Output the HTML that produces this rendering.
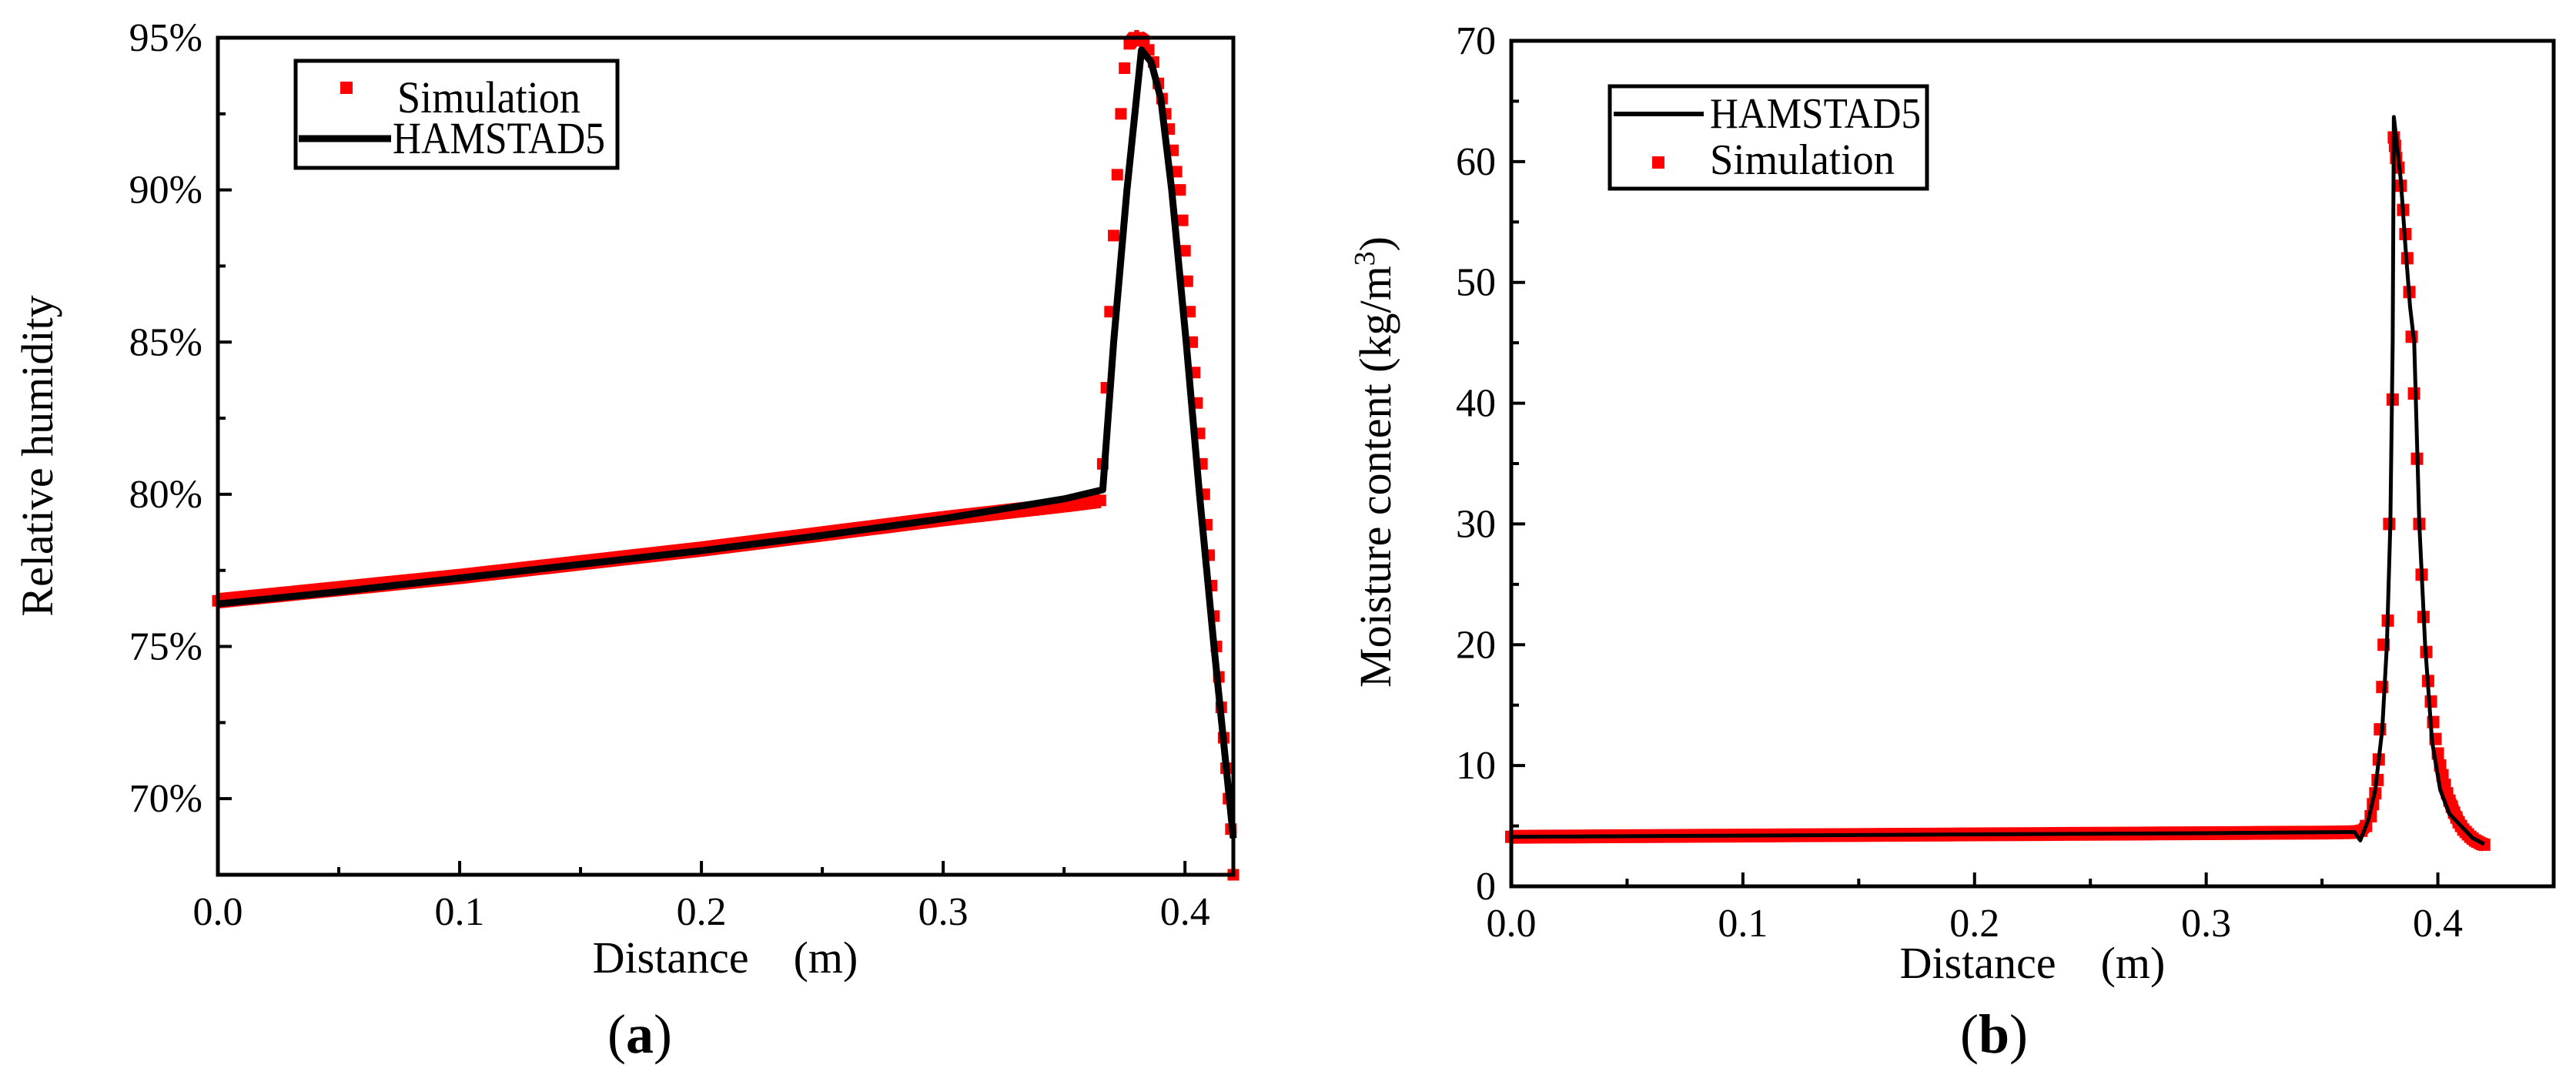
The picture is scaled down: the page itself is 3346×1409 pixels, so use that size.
<!DOCTYPE html>
<html><head><meta charset="utf-8"><style>
html,body{margin:0;padding:0;background:#fff;}
svg{display:block;font-family:"Liberation Serif",serif;}
</style></head><body>
<svg id="fig" width="3346" height="1409" viewBox="0 0 3346 1409" xmlns="http://www.w3.org/2000/svg">
<g id="pa"></g>
<g id="pb"></g>
<text x="831" y="1367" font-size="72" text-anchor="middle">(<tspan font-weight="bold">a</tspan>)</text>
<text x="2590" y="1367" font-size="72" text-anchor="middle">(<tspan font-weight="bold">b</tspan>)</text>
</svg>
<script>
// ---- Panel A data ----
const aHamX = [0,0.05,0.1,0.15,0.2,0.25,0.3,0.35,0.366,0.3705,0.376,0.382,0.386,0.39,0.3945,0.4005,0.406,0.412,0.42];
const aHamY = [76.4,76.8,77.25,77.7,78.15,78.65,79.2,79.85,80.15,85,90,94.6,94.2,93,90,85,80,75,68.7];
const aSimX = [0,0.01,0.02,0.03,0.04,0.05,0.06,0.07,0.08,0.09,0.1,0.11,0.12,0.13,0.14,0.15,0.16,0.17,0.18,0.19,0.2,0.21,0.22,0.23,0.24,0.25,0.26,0.27,0.28,0.29,0.3,0.31,0.32,0.33,0.34,0.35,0.36,0.365,
 0.366,0.3675,0.369,0.3705,0.372,0.3735,0.375,0.377,0.379,0.381,0.383,0.385,0.387,0.389,0.3905,0.392,
 0.3935,0.395,0.3965,0.398,0.399,0.4,0.401,0.402,0.403,0.404,0.405,0.406,0.407,0.408,0.409,0.41,0.411,0.412,0.413,0.414,0.415,0.416,0.417,0.418,0.419,0.42];
const aSimY = [76.5,76.58,76.66,76.74,76.82,76.9,76.98,77.06,77.14,77.22,77.3,77.39,77.48,77.57,77.66,77.75,77.84,77.93,78.02,78.11,78.2,78.3,78.4,78.5,78.6,78.7,78.8,78.9,79.0,79.1,79.2,79.29,79.38,79.47,79.56,79.65,79.75,79.8,
 81,83.5,86,88.5,90.5,92.5,94,94.8,95,95,94.9,94.6,94.2,93.5,93,92.5,
 92,91.3,90.6,90,89,88,87,86,85,84,83,82,81,80,79,78,77,76,75,74,73,72,71,70,69,67.5];
const aXTicks = [0,0.1,0.2,0.3,0.4];
const aXLabels = ["0.0","0.1","0.2","0.3","0.4"];
const aYTicks = [70,75,80,85,90,95];
const aYLabels = ["70%","75%","80%","85%","90%","95%"];
// ---- Panel B data ----
const bHamX = [0,0.1,0.2,0.3,0.364,0.3665,0.37,0.373,0.376,0.378,0.3795,0.3805,0.381,0.382,0.384,0.386,0.388,0.3898,0.392,0.3945,0.3975,0.401,0.405,0.41,0.415,0.42];
const bHamY = [4.1,4.2,4.3,4.4,4.5,3.8,5.5,8,13,20,30,45,63.7,62,58.5,53,48,45,30,20,12,8,6,5,4,3.5];
const bSimX = [0,0.01,0.02,0.03,0.04,0.05,0.06,0.07,0.08,0.09,0.1,0.11,0.12,0.13,0.14,0.15,0.16,0.17,0.18,0.19,0.2,0.21,0.22,0.23,0.24,0.25,0.26,0.27,0.28,0.29,0.3,0.31,0.32,0.33,0.34,0.35,0.36,0.365,
 0.367,0.369,0.371,0.372,0.373,0.374,0.3745,0.375,0.376,0.3766,0.3784,0.379,0.3805,0.381,0.3815,0.382,0.383,0.384,0.385,0.386,0.3868,0.3877,0.3887,0.3897,0.391,0.392,0.393,0.3938,0.395,0.3958,0.397,0.398,0.399,0.4,0.401,0.402,0.403,0.404,0.405,0.406,0.407,0.408,0.409,0.41,0.411,0.412,0.413,0.414,0.415,0.416,0.417,0.418,0.419,0.42];
const bSimY = [4.1,4.11,4.12,4.13,4.14,4.15,4.16,4.17,4.18,4.19,4.2,4.21,4.22,4.23,4.24,4.25,4.26,4.27,4.28,4.29,4.3,4.31,4.32,4.33,4.34,4.35,4.36,4.37,4.38,4.39,4.4,4.41,4.42,4.43,4.44,4.45,4.47,4.5,
 4.6,5,5.8,6.8,7.7,8.8,10.5,13,16.5,20,22,30,40.3,62,61.3,60.3,59.5,58,56,54,52,49.2,45.5,40.8,35.4,30,25.8,22.3,19.4,17,15.3,13.6,12.2,11,10,9.2,8.4,7.7,7.1,6.6,6.1,5.7,5.3,5,4.7,4.5,4.3,4.1,3.95,3.8,3.7,3.6,3.5,3.45,3.4];
const bXTicks = [0,0.1,0.2,0.3,0.4];
const bXLabels = ["0.0","0.1","0.2","0.3","0.4"];
const bYTicks = [0,10,20,30,40,50,60,70];
const bYLabels = ["0","10","20","30","40","50","60","70"];

const NS = "http://www.w3.org/2000/svg";
function mk(tag, attrs, parent){const e=document.createElementNS(NS,tag);for(const k in attrs)e.setAttribute(k,attrs[k]);parent.appendChild(e);return e;}

function drawPanel(g, cfg){
  const sx = v => cfg.x0 + (v - cfg.xmin)/(cfg.xmax - cfg.xmin)*(cfg.x1 - cfg.x0);
  const sy = v => cfg.y1 - (v - cfg.ymin)/(cfg.ymax - cfg.ymin)*(cfg.y1 - cfg.y0);
  for(let i=0;i<cfg.xTicks.length;i++){
    const x=sx(cfg.xTicks[i]);
    const t=mk('line',{x1:x,y1:cfg.y1,x2:x,y2:cfg.y1-18,stroke:'#000','stroke-width':4},g);
    
    
    const lb=mk('text',{x:x,y:cfg.y1+65,'font-size':52,'text-anchor':'middle'},g);
    lb.textContent=cfg.xLabels[i];
    
    
    const xm=sx(cfg.xTicks[i]+cfg.xMinorStep);
    if(cfg.xTicks[i]+cfg.xMinorStep<cfg.xmax){
      const m=mk('line',{x1:xm,y1:cfg.y1,x2:xm,y2:cfg.y1-10,stroke:'#000','stroke-width':4},g);
      
      
    }
  }
  for(let i=0;i<cfg.yTicks.length;i++){
    const y=sy(cfg.yTicks[i]);
    const t=mk('line',{x1:cfg.x0,y1:y,x2:cfg.x0+18,y2:y,stroke:'#000','stroke-width':4},g);
    
    
    const lb=mk('text',{x:cfg.x0-20,y:y+17,'font-size':52,'text-anchor':'end'},g);
    lb.textContent=cfg.yLabels[i];
    
    
    const vm=cfg.yTicks[i]+cfg.yMinorStep;
    if(vm<cfg.ymax){
      const ym=sy(vm);
      const m=mk('line',{x1:cfg.x0,y1:ym,x2:cfg.x0+10,y2:ym,stroke:'#000','stroke-width':4},g);
      
      
    }
  }
  const sg=mk('g',{},g);
  
  
  for(let i=0;i<cfg.simX.length-1;i++){
    const xa=sx(cfg.simX[i]),ya=sy(cfg.simY[i]),xb=sx(cfg.simX[i+1]),yb=sy(cfg.simY[i+1]);
    if(Math.hypot(xb-xa,yb-ya)<40 && Math.abs(yb-ya)<8){
      const l=mk('line',{x1:xa,y1:ya,x2:xb,y2:yb,stroke:'#ff0000','stroke-width':cfg.band},sg);
      
      
    }
  }
  for(let i=0;i<cfg.simX.length;i++){
    const s=cfg.ms;
    const r=mk('rect',{x:sx(cfg.simX[i])-s/2,y:sy(Math.max(cfg.simY[i],cfg.ymin))-s/2,width:s,height:s,fill:'#ff0000'},sg);
    
    
  }
  const pts=cfg.hamX.map((x,i)=>sx(x)+','+sy(cfg.hamY[i])).join(' ');
  const hl=mk('polyline',{points:pts,fill:'none',stroke:'#000','stroke-width':cfg.lw,'stroke-linejoin':'round'},g);
  
  
  const fr=mk('rect',{x:cfg.x0,y:cfg.y0,width:cfg.x1-cfg.x0,height:cfg.y1-cfg.y0,fill:'none',stroke:'#000','stroke-width':5},g);
  
  
}

const ga=document.getElementById('pa');
drawPanel(ga,{x0:283,x1:1602,y0:49,y1:1136,xmin:0,xmax:0.42,ymin:67.5,ymax:95,
  xTicks:aXTicks,xLabels:aXLabels,yTicks:aYTicks,yLabels:aYLabels,xMinorStep:0.05,yMinorStep:2.5,
  simX:aSimX,simY:aSimY,hamX:aHamX,hamY:aHamY,ms:15,band:20,lw:9});
const gb=document.getElementById('pb');
drawPanel(gb,{x0:1963,x1:3317,y0:53,y1:1151,xmin:0,xmax:0.45,ymin:0,ymax:70,
  xTicks:bXTicks,xLabels:bXLabels,yTicks:bYTicks,yLabels:bYLabels,xMinorStep:0.05,yMinorStep:5,
  simX:bSimX,simY:bSimY,hamX:bHamX,hamY:bHamY,ms:16,band:18,lw:5});

function txt(parent,attrs,s,name){const t=mk('text',attrs,parent);t.textContent=s;return t;}
txt(ga,{x:942,y:1263,'font-size':58,'text-anchor':'middle'},'Distance\u2003(m)','x-axis-title');
txt(ga,{x:0,y:0,'font-size':58,'text-anchor':'middle',transform:'translate(68,592) rotate(-90)'},'Relative humidity','y-axis-title');
txt(gb,{x:2640,y:1270,'font-size':58,'text-anchor':'middle'},'Distance\u2003(m)','x-axis-title');
const yt=mk('text',{x:0,y:0,'font-size':58,'text-anchor':'middle',transform:'translate(1806,600) rotate(-90)'},gb);


yt.innerHTML='Moisture content (kg/m<tspan baseline-shift="super" font-size="38">3</tspan>)';

const la=mk('g',{},ga);


mk('rect',{x:384,y:79,width:418,height:139,fill:'#fff',stroke:'#000','stroke-width':5},la);
mk('rect',{x:442,y:106,width:16,height:16,fill:'#ff0000'},la);
txt(la,{x:516,y:146,'font-size':58,textLength:238,lengthAdjust:'spacingAndGlyphs'},'Simulation','legend-entry-simulation');
mk('line',{x1:388,y1:180,x2:508,y2:180,stroke:'#000','stroke-width':9},la);
txt(la,{x:510,y:199,'font-size':58,textLength:276,lengthAdjust:'spacingAndGlyphs'},'HAMSTAD5','legend-entry-hamstad5');

const lb2=mk('g',{},gb);


mk('rect',{x:2091,y:112,width:412,height:133,fill:'#fff',stroke:'#000','stroke-width':5},lb2);
mk('line',{x1:2096,y1:148,x2:2213,y2:148,stroke:'#000','stroke-width':6},lb2);
txt(lb2,{x:2221,y:166,'font-size':56,textLength:274,lengthAdjust:'spacingAndGlyphs'},'HAMSTAD5','legend-entry-hamstad5');
mk('rect',{x:2146,y:203,width:16,height:16,fill:'#ff0000'},lb2);
txt(lb2,{x:2221,y:226,'font-size':56,textLength:240,lengthAdjust:'spacingAndGlyphs'},'Simulation','legend-entry-simulation');
</script>
</body></html>
